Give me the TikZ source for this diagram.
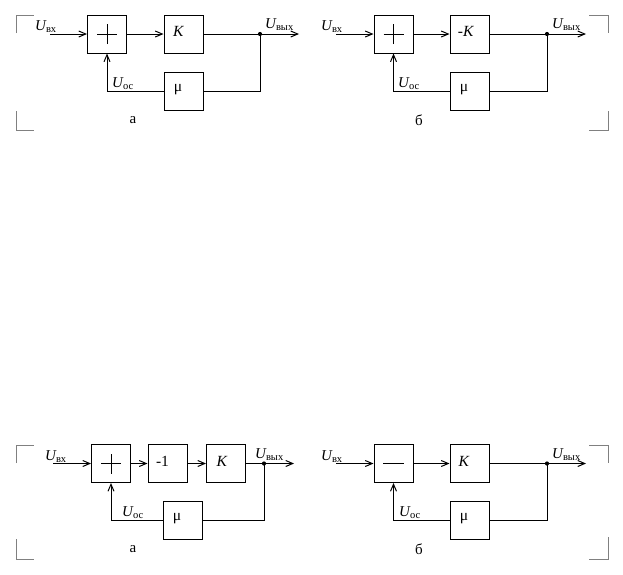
\documentclass[tikz,border=0pt]{standalone}
\usepackage{fontspec}
\setmainfont{Liberation Serif}
\usetikzlibrary{arrows.meta}
\newcommand{\Ulab}[1]{{\fontsize{15}{15}\selectfont\itshape U}\raisebox{-2.5pt}{\fontsize{10.5}{10.5}\selectfont #1}}
\tikzset{
  blk/.style={draw, line width=1pt, minimum width=39pt, minimum height=38pt, inner sep=0pt},
  btxt/.style={inner sep=0pt, font=\fontsize{15.5}{15.5}\selectfont},
  wire/.style={line width=1pt},
  arr/.style={wire, -{Straight Barb[length=7pt,width=6pt,line width=1pt]}},
  brk/.style={line width=0.8pt, draw=gray},
  lbl/.style={anchor=base west, inner sep=0pt},
  captxt/.style={inner sep=0pt, font=\fontsize{15}{15}\selectfont},
  dot/.style={circle, fill, inner sep=0pt, minimum size=4.2pt}
}
\begin{document}
\begin{tikzpicture}[x=1pt,y=-1pt]
\useasboundingbox (0,0) rectangle (623,574);
% ---------- brackets ----------
\draw[brk] (16,33) -- (16,15) -- (34,15);
\draw[brk] (16,111) -- (16,130) -- (34,130);
\draw[brk] (589,15) -- (608,15) -- (608,33);
\draw[brk] (608,111) -- (608,130) -- (589,130);
\draw[brk] (16,463) -- (16,445) -- (34,445);
\draw[brk] (16,539) -- (16,559) -- (34,559);
\draw[brk] (589,445) -- (608,445) -- (608,463);
\draw[brk] (608,537) -- (608,559) -- (589,559);

% ---------- panel A (top left) ----------
\node[blk] (sA) at (107,34) {};
\draw[wire] ([xshift=-10pt]sA.center) -- ([xshift=10pt]sA.center);
\draw[wire] ([yshift=-10pt]sA.center) -- ([yshift=10pt]sA.center);
\node[blk] (kA) at (183.5,34) {};
\node[btxt] (kAt) at ([xshift=-5pt,yshift=2.5pt]kA.center) {\textit{K}};
\node[blk] (mA) at (183.5,91) {};
\node[btxt] (mAt) at ([xshift=-5.5pt,yshift=1.5pt]mA.center) {μ};
\coordinate (iA) at (50,34);
\node[dot] (jA) at (260,34) {};
\coordinate (oA) at (299,34);
\coordinate (cA) at (260,91);
\coordinate (fA) at (107,91);
\draw[arr] (iA) -- (sA.west);
\draw[arr] (sA.east) -- (kA.west);
\draw[wire] (kA.east) -- (jA.center);
\draw[arr] (jA.center) -- (oA);
\draw[wire] (jA.center) -- (cA) -- (mA.east);
\draw[arr] (mA.west) -- (fA) -- (sA.south);
\node[lbl] (uiA) at (35,30) {\Ulab{вх}};
\node[lbl] (uoA) at (265,28) {\Ulab{вых}};
\node[lbl] (ufA) at (112,87) {\Ulab{ос}};
\node[captxt] (tA) at (133,120) {а};

% ---------- panel B (top right) ----------
\node[blk] (sB) at (393.5,34) {};
\draw[wire] ([xshift=-10pt]sB.center) -- ([xshift=10pt]sB.center);
\draw[wire] ([yshift=-10pt]sB.center) -- ([yshift=10pt]sB.center);
\node[blk] (kB) at (469.5,34) {};
\node[btxt] (kBt) at ([xshift=-3.5pt,yshift=2.5pt]kB.center) {-\textit{K}};
\node[blk] (mB) at (469.5,91) {};
\node[btxt] (mBt) at ([xshift=-5.5pt,yshift=1.5pt]mB.center) {μ};
\coordinate (iB) at (336,34);
\node[dot] (jB) at (547,34) {};
\coordinate (oB) at (586,34);
\coordinate (cB) at (547,91);
\coordinate (fB) at (393.5,91);
\draw[arr] (iB) -- (sB.west);
\draw[arr] (sB.east) -- (kB.west);
\draw[wire] (kB.east) -- (jB.center);
\draw[arr] (jB.center) -- (oB);
\draw[wire] (jB.center) -- (cB) -- (mB.east);
\draw[arr] (mB.west) -- (fB) -- (sB.south);
\node[lbl] (uiB) at (321,30) {\Ulab{вх}};
\node[lbl] (uoB) at (552,28) {\Ulab{вых}};
\node[lbl] (ufB) at (398,87) {\Ulab{ос}};
\node[captxt] (tB) at (419,120) {б};

% ---------- panel C (bottom left) ----------
\node[blk] (sC) at (111,463.5) {};
\draw[wire] ([xshift=-10pt]sC.center) -- ([xshift=10pt]sC.center);
\draw[wire] ([yshift=-10pt]sC.center) -- ([yshift=10pt]sC.center);
\node[blk] (nC) at (167.5,463.5) {};
\node[btxt] (nCt) at ([xshift=-5pt,yshift=2.5pt]nC.center) {-1};
\node[blk] (kC) at (226,463.5) {};
\node[btxt] (kCt) at ([xshift=-4pt,yshift=2.5pt]kC.center) {\textit{K}};
\node[blk] (mC) at (182.5,520) {};
\node[btxt] (mCt) at ([xshift=-5.5pt,yshift=1.5pt]mC.center) {μ};
\coordinate (iC) at (53,463.5);
\node[dot] (jC) at (264,463.5) {};
\coordinate (oC) at (294,463.5);
\coordinate (cC) at (264,520);
\coordinate (fC) at (111,520);
\draw[arr] (iC) -- (sC.west);
\draw[arr] (sC.east) -- (nC.west);
\draw[arr] (nC.east) -- (kC.west);
\draw[wire] (kC.east) -- (jC.center);
\draw[arr] (jC.center) -- (oC);
\draw[wire] (jC.center) -- (cC) -- (mC.east);
\draw[arr] (mC.west) -- (fC) -- (sC.south);
\node[lbl] (uiC) at (45,460) {\Ulab{вх}};
\node[lbl] (uoC) at (255,458) {\Ulab{вых}};
\node[lbl] (ufC) at (122,516) {\Ulab{ос}};
\node[captxt] (tC) at (133,549) {а};

% ---------- panel D (bottom right) ----------
\node[blk] (sD) at (393.5,463.5) {};
\draw[wire] ([xshift=-10.5pt]sD.center) -- ([xshift=10.5pt]sD.center);
\node[blk] (kD) at (469.5,463.5) {};
\node[btxt] (kDt) at ([xshift=-5.5pt,yshift=2.5pt]kD.center) {\textit{K}};
\node[blk] (mD) at (469.5,520) {};
\node[btxt] (mDt) at ([xshift=-5.5pt,yshift=1.5pt]mD.center) {μ};
\coordinate (iD) at (336,463.5);
\node[dot] (jD) at (547,463.5) {};
\coordinate (oD) at (586,463.5);
\coordinate (cD) at (547,520);
\coordinate (fD) at (393.5,520);
\draw[arr] (iD) -- (sD.west);
\draw[arr] (sD.east) -- (kD.west);
\draw[wire] (kD.east) -- (jD.center);
\draw[arr] (jD.center) -- (oD);
\draw[wire] (jD.center) -- (cD) -- (mD.east);
\draw[arr] (mD.west) -- (fD) -- (sD.south);
\node[lbl] (uiD) at (321,460) {\Ulab{вх}};
\node[lbl] (uoD) at (552,458) {\Ulab{вых}};
\node[lbl] (ufD) at (399,516) {\Ulab{ос}};
\node[captxt] (tD) at (419,549) {б};
\end{tikzpicture}
\end{document}
